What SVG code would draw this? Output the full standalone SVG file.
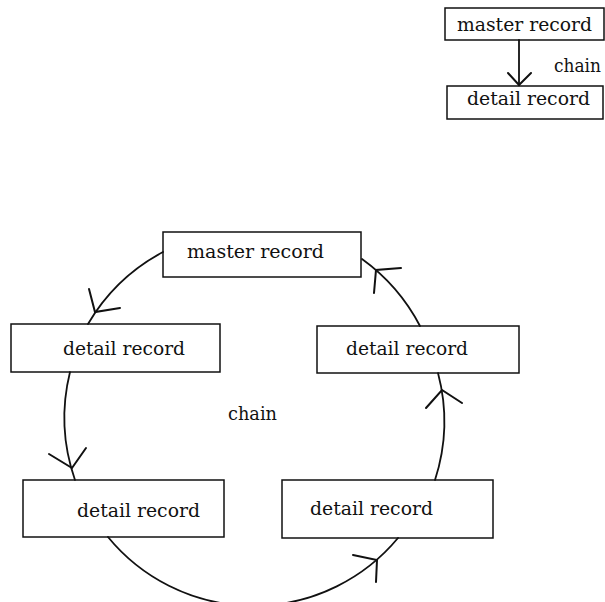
<svg xmlns="http://www.w3.org/2000/svg" width="605" height="602" viewBox="0 0 605 602">
  <style>
    .box { fill: #ffffff; stroke: #111111; stroke-width: 1.5; }
    .lbl { font-family: "DejaVu Serif", "Liberation Serif", serif; font-size: 18.7px; fill: #111111; }
    .link { fill: none; stroke: #111111; stroke-width: 1.8; stroke-linecap: round; }
    .head { fill: none; stroke: #111111; stroke-width: 2; stroke-linecap: round; stroke-linejoin: miter; }
  </style>
  <rect width="605" height="602" fill="#ffffff"/>

  <!-- legend: one master record chained to one detail record -->
  <g id="legend-master">
    <rect class="box" x="445" y="8" width="159" height="32"/>
    <text class="lbl" x="457" y="31" textLength="135" lengthAdjust="spacingAndGlyphs">master record</text>
  </g>
  <g id="legend-detail">
    <rect class="box" x="447" y="86" width="156" height="33"/>
    <text class="lbl" x="467" y="105" textLength="123" lengthAdjust="spacingAndGlyphs">detail record</text>
  </g>

  <!-- ring of records -->
  <g id="master">
    <rect class="box" x="163" y="232" width="198" height="45"/>
    <text class="lbl" x="187" y="258" textLength="137" lengthAdjust="spacingAndGlyphs">master record</text>
  </g>
  <g id="detail-1">
    <rect class="box" x="11" y="324" width="209" height="48"/>
    <text class="lbl" x="63" y="355" textLength="122" lengthAdjust="spacingAndGlyphs">detail record</text>
  </g>
  <g id="detail-2">
    <rect class="box" x="23" y="480" width="201" height="57"/>
    <text class="lbl" x="77" y="517" textLength="123" lengthAdjust="spacingAndGlyphs">detail record</text>
  </g>
  <g id="detail-3">
    <rect class="box" x="282" y="480" width="211" height="58"/>
    <text class="lbl" x="310" y="515" textLength="123" lengthAdjust="spacingAndGlyphs">detail record</text>
  </g>
  <g id="detail-4">
    <rect class="box" x="317" y="326" width="202" height="47"/>
    <text class="lbl" x="346" y="355" textLength="122" lengthAdjust="spacingAndGlyphs">detail record</text>
  </g>

  <!-- chain connectors -->
  <g id="connectors">
    <!-- legend chain -->
    <path class="link" d="M519 40 L519 85"/>
    <polyline class="head" points="508,73 519,85 531,73"/>
    <text class="lbl" x="554" y="72" textLength="47" lengthAdjust="spacingAndGlyphs">chain</text>

    <!-- master -> detail 1 -->
    <path class="link" d="M163 252 A191 191 0 0 0 88 324"/>
    <polyline class="head" points="89,289 95,312 120,308"/>
    <!-- detail 1 -> detail 2 -->
    <path class="link" d="M70 372 A190 190 0 0 0 75 480"/>
    <polyline class="head" points="49,454 72,468 86,448"/>
    <!-- detail 2 -> detail 3 -->
    <path class="link" d="M108 537 A188 188 0 0 0 398 538"/>
    <polyline class="head" points="353,555 377,560 376,582"/>
    <!-- detail 3 -> detail 4 -->
    <path class="link" d="M435 480 A190 190 0 0 0 438 373"/>
    <polyline class="head" points="426,408 442,390 462,403"/>
    <!-- detail 4 -> master -->
    <path class="link" d="M420 326 A192 192 0 0 0 362 259"/>
    <polyline class="head" points="401,268 376,270 374,293"/>

    <text class="lbl" x="228" y="420" textLength="49" lengthAdjust="spacingAndGlyphs">chain</text>
  </g>
</svg>
